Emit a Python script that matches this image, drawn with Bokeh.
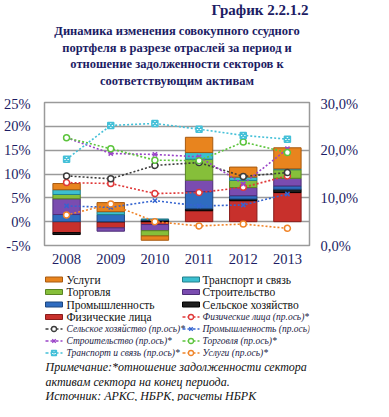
import numpy as np
from bokeh.plotting import figure
from bokeh.models import Range1d, LinearAxis, FixedTicker, CustomJSTickFormatter, ColumnDataSource
from bokeh.layouts import column
from bokeh.core.properties import value
from bokeh.embed import file_html
from bokeh.resources import INLINE

years = ["2008", "2009", "2010", "2011", "2012", "2013"]

# bar contributions, % (left axis); stack order bottom -> top
fiz_lica = [-2.3, -1.3, -0.6, 2.3, 4.4, 6.1]
selkhoz = [-0.4, 0.0, 0.3, 0.4, 0.35, 0.7]
promysh = [1.5, 1.5, 0.2, 3.6, 0.7, 0.7]
stroit = [3.3, -0.7, -1.3, 2.4, 1.7, 1.6]
torgovlya = [0.9, 0.0, -1.1, 4.4, 1.5, 1.8]
transport = [1.0, 0.6, 0.0, 1.4, 0.7, 0.2]
uslugi = [1.3, 1.9, -0.9, 3.2, 2.1, 4.4]

# ratios, % (right axis)
fiz_lica_r = [13.2, 13.0, 10.9, 11.1, 12.2, 14.6]
selkhoz_r = [14.6, 14.0, 16.8, 17.4, 14.5, 15.3]
stroit_r = [22.6, 19.3, 19.1, 18.6, 12.9, 20.3]
transport_r = [18.1, 25.2, 25.6, 24.4, 23.1, 22.3]
promysh_r = [8.3, 8.0, 9.4, 8.3, 8.5, 10.8]
torgovlya_r = [22.6, 20.3, 17.9, 17.8, 21.7, 19.5]
uslugi_r = [6.4, 8.7, 5.0, 4.1, 4.5, 3.6]

bar_names = ["Физические лица", "Сельское хозяйство", "Промышленность", "Строительство",
             "Торговля", "Транспорт и связь", "Услуги"]
line_names = ["Физические лица (пр.ось)*", "Сельское хозяйство (пр.ось)*", "Промышленность (пр.ось)*",
              "Строительство (пр.ось)*", "Торговля (пр.ось)*", "Транспорт и связь (пр.ось)*",
              "Услуги (пр.ось)*"]
title_top = "График 2.2.1.2"
title_lines = ["Динамика изменения совокупного ссудного",
               "портфеля в разрезе отраслей за период и",
               "отношение задолженности секторов к",
               "соответствующим активам"]
note_line1 = "Примечание:*отношение задолженности сектора к"
note_line2 = "активам сектора на конец периода."
source_line = "Источник: АРКС, НБРК, расчеты НБРК"

bar_series = [fiz_lica, selkhoz, promysh, stroit, torgovlya, transport, uslugi]
line_series = [fiz_lica_r, selkhoz_r, promysh_r, stroit_r, torgovlya_r, transport_r, uslugi_r]
bar_colors = ["#c8302c", "#1e1e1e", "#2f6cc0", "#7a4cb0", "#86bf3a", "#3cbfd0", "#e8841e"]
bar_edges = ["#8a1c1a", "#000000", "#1d467e", "#4e2e78", "#5a8424", "#21808c", "#a85a10"]
line_colors = ["#e03838", "#3c3c3c", "#3464d0", "#9a44c8", "#5cc43c", "#44c0d8", "#f08428"]
line_markers = ["circle", "circle", "x", "x", "circle", "square_x", "circle"]

NAVY = "#1c1c64"
FONT = "'Liberation Serif', 'Times New Roman', serif"

W = 373
xi = np.arange(len(years))


def blank_fig(h, y0, y1):
    f = figure(width=W, height=h, x_range=Range1d(52, 317), y_range=Range1d(y1, y0),
               output_backend="svg", toolbar_location=None, min_border=0,
               x_axis_location=None, y_axis_location=None, title=None)
    f.grid.visible = False
    f.outline_line_color = None
    return f


# ---------------- title figure ----------------
pt = blank_fig(95, 8, 103)
pt.text(x=[316], y=[17], text=[title_top], text_font=value(FONT), text_font_size="15px",
        text_font_style="bold", text_color=NAVY, text_align="right", text_baseline="middle")
pt.text(x=[184.5] * 4, y=[38, 55, 71.5, 88], text=title_lines, text_font=value(FONT),
        text_font_size="12.5px", text_font_style="bold", text_color=NAVY,
        text_align="center", text_baseline="middle")

# ---------------- chart figure ----------------
p = figure(width=W, height=175, x_range=Range1d(-0.5, len(years) - 0.5), y_range=Range1d(-5, 25),
           title=None, output_backend="svg", toolbar_location=None,
           min_border_left=44, min_border_right=64, min_border_top=7, min_border_bottom=25)
p.extra_y_ranges = {"right": Range1d(0, 30)}
p.outline_line_color = "#9a9a9a"
p.outline_line_width = 1.5
p.xgrid.visible = False
p.ygrid.grid_line_color = "#9a9a9a"
p.ygrid.grid_line_width = 1.5
p.yaxis.ticker = FixedTicker(ticks=[-5, 0, 5, 10, 15, 20, 25])
p.yaxis.formatter = CustomJSTickFormatter(code="return tick + '%';")
p.xaxis.ticker = FixedTicker(ticks=list(range(len(years))))
p.xaxis.formatter = CustomJSTickFormatter(args=dict(labels=years),
                                          code="return labels[Math.round(tick)];")

for ax in [p.xaxis[0], p.yaxis[0]]:
    ax.axis_line_color = None
    ax.major_tick_line_color = None
    ax.minor_tick_line_color = None
    ax.major_tick_out = 0
    ax.major_tick_in = 0
    ax.minor_tick_out = 0
    ax.minor_tick_in = 0
    ax.major_label_text_font = FONT
    ax.major_label_text_font_size = "14.5px"
    ax.major_label_text_color = NAVY
p.yaxis.major_label_standoff = 14
p.xaxis.major_label_standoff = 8

rax = LinearAxis(y_range_name="right", ticker=FixedTicker(ticks=[0, 10, 20, 30]),
                 formatter=CustomJSTickFormatter(code="return tick.toFixed(1).replace('.', ',') + '%';"))
rax.axis_line_color = None
rax.major_tick_line_color = None
rax.minor_tick_line_color = None
rax.major_tick_out = 0
rax.major_tick_in = 0
rax.major_label_standoff = 11
rax.major_label_text_font = FONT
rax.major_label_text_font_size = "14.5px"
rax.major_label_text_color = NAVY
p.add_layout(rax, "right")

# stacked bars with positive/negative separation
pos = np.zeros(len(years))
neg = np.zeros(len(years))
for vals, col, edge in zip(bar_series, bar_colors, bar_edges):
    v = np.array(vals, dtype=float)
    bottom = np.where(v >= 0, pos, neg)
    top = bottom + v
    pos = np.where(v >= 0, top, pos)
    neg = np.where(v < 0, top, neg)
    src = ColumnDataSource(dict(x=xi, top=top, bottom=bottom))
    p.vbar(x="x", top="top", bottom="bottom", width=0.62, source=src,
           fill_color=col, line_color=edge, line_width=1)

for vals, col, mk in zip(line_series, line_colors, line_markers):
    p.line(x=xi, y=vals, y_range_name="right", line_color=col, line_width=1.6, line_dash="2 2")
    p.scatter(x=xi, y=vals, y_range_name="right", marker=mk, size=6,
              line_color=col, fill_color="white", line_width=1.5)

# ---------------- legend / notes figure ----------------
pl = blank_fig(131, 278, 409)

rows = [287, 299.5, 312, 324.5, 336.5, 348.5, 360.5]
col1 = [("bar", 6), ("bar", 4), ("bar", 2), ("bar", 0), ("line", 1), ("line", 3), ("line", 5)]
col2 = [("bar", 5), ("bar", 3), ("bar", 1), ("line", 0), ("line", 2), ("line", 4), ("line", 6)]
SW = 17
for items, sx0, tx in [(col1, 53, 74), (col2, 190, 210)]:
    for (kind, i), y in zip(items, rows):
        if kind == "bar":
            pl.quad(left=[sx0], right=[sx0 + SW], top=[y - 2.5], bottom=[y + 2.5],
                    fill_color=bar_colors[i], line_color=bar_edges[i], line_width=1)
            pl.text(x=[tx], y=[y], text=[bar_names[i]], text_font=value(FONT),
                    text_font_size="11.5px", text_color="#111111", text_baseline="middle")
        else:
            pl.line(x=[sx0, sx0 + SW], y=[y, y], line_color=line_colors[i], line_width=1.6,
                    line_dash="3 2")
            pl.scatter(x=[sx0 + SW / 2], y=[y], marker=line_markers[i], size=5,
                       line_color=line_colors[i], fill_color="white", line_width=1.3)
            pl.text(x=[tx], y=[y], text=[line_names[i]], text_font=value(FONT),
                    text_font_size="9.5px", text_font_style="italic", text_color="#222244",
                    text_baseline="middle")

pl.text(x=[53, 53, 53], y=[374.5, 389.5, 403], text=[note_line1, note_line2, source_line],
        text_font=value(FONT), text_font_size="12px", text_font_style="italic",
        text_color="#111111", text_baseline="middle")

layout = column(pt, p, pl, spacing=0)
open("out.html", "w").write(file_html(layout, INLINE))
